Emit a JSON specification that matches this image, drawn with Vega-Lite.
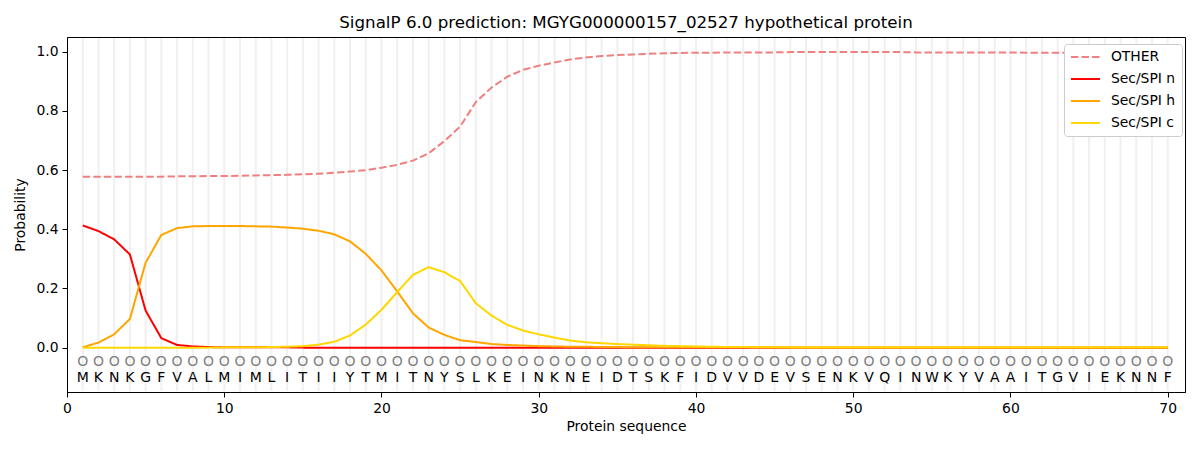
{
  "$schema": "https://vega.github.io/schema/vega-lite/v6.json",
  "width": 1118,
  "height": 355,
  "autosize": "none",
  "padding": {"left": 67, "top": 37, "right": 15, "bottom": 58},
  "background": "white",
  "config": {
    "font": "DejaVu Sans",
    "view": {"stroke": "black", "strokeWidth": 1},
    "axis": {
      "domainColor": "black",
      "tickColor": "black",
      "tickSize": 5,
      "tickWidth": 1,
      "labelFontSize": 13.9,
      "labelColor": "black",
      "labelPadding": 4,
      "titleFontSize": 13.9,
      "titleFontWeight": "normal",
      "titleColor": "black",
      "grid": false
    }
  },
  "title": {
    "text": "SignalP 6.0 prediction: MGYG000000157_02527 hypothetical protein",
    "fontSize": 16.7,
    "fontWeight": "normal",
    "color": "black",
    "anchor": "middle",
    "frame": "group",
    "baseline": "bottom",
    "offset": 6,
    "dy": 18
  },
  "data": {
    "values": [
      {"pos": 1, "aa": "M", "other": 0.578, "sp_n": 0.413, "sp_h": 0.001, "sp_c": 0.000},
      {"pos": 2, "aa": "K", "other": 0.578, "sp_n": 0.394, "sp_h": 0.017, "sp_c": 0.000},
      {"pos": 3, "aa": "N", "other": 0.578, "sp_n": 0.366, "sp_h": 0.045, "sp_c": 0.000},
      {"pos": 4, "aa": "K", "other": 0.578, "sp_n": 0.315, "sp_h": 0.097, "sp_c": 0.000},
      {"pos": 5, "aa": "G", "other": 0.578, "sp_n": 0.125, "sp_h": 0.287, "sp_c": 0.000},
      {"pos": 6, "aa": "F", "other": 0.578, "sp_n": 0.032, "sp_h": 0.381, "sp_c": 0.000},
      {"pos": 7, "aa": "V", "other": 0.579, "sp_n": 0.009, "sp_h": 0.404, "sp_c": 0.000},
      {"pos": 8, "aa": "A", "other": 0.579, "sp_n": 0.004, "sp_h": 0.410, "sp_c": 0.000},
      {"pos": 9, "aa": "L", "other": 0.580, "sp_n": 0.002, "sp_h": 0.411, "sp_c": 0.000},
      {"pos": 10, "aa": "M", "other": 0.580, "sp_n": 0.001, "sp_h": 0.411, "sp_c": 0.001},
      {"pos": 11, "aa": "I", "other": 0.581, "sp_n": 0.001, "sp_h": 0.411, "sp_c": 0.001},
      {"pos": 12, "aa": "M", "other": 0.582, "sp_n": 0.001, "sp_h": 0.410, "sp_c": 0.001},
      {"pos": 13, "aa": "L", "other": 0.583, "sp_n": 0.001, "sp_h": 0.409, "sp_c": 0.002},
      {"pos": 14, "aa": "I", "other": 0.584, "sp_n": 0.001, "sp_h": 0.406, "sp_c": 0.003},
      {"pos": 15, "aa": "T", "other": 0.586, "sp_n": 0.000, "sp_h": 0.402, "sp_c": 0.005},
      {"pos": 16, "aa": "I", "other": 0.588, "sp_n": 0.000, "sp_h": 0.395, "sp_c": 0.010},
      {"pos": 17, "aa": "I", "other": 0.591, "sp_n": 0.000, "sp_h": 0.383, "sp_c": 0.020},
      {"pos": 18, "aa": "Y", "other": 0.595, "sp_n": 0.000, "sp_h": 0.359, "sp_c": 0.041},
      {"pos": 19, "aa": "T", "other": 0.600, "sp_n": 0.000, "sp_h": 0.317, "sp_c": 0.078},
      {"pos": 20, "aa": "M", "other": 0.608, "sp_n": 0.000, "sp_h": 0.261, "sp_c": 0.128},
      {"pos": 21, "aa": "I", "other": 0.618, "sp_n": 0.000, "sp_h": 0.190, "sp_c": 0.188},
      {"pos": 22, "aa": "T", "other": 0.632, "sp_n": 0.000, "sp_h": 0.116, "sp_c": 0.246},
      {"pos": 23, "aa": "N", "other": 0.657, "sp_n": 0.000, "sp_h": 0.068, "sp_c": 0.272},
      {"pos": 24, "aa": "Y", "other": 0.698, "sp_n": 0.000, "sp_h": 0.043, "sp_c": 0.255},
      {"pos": 25, "aa": "S", "other": 0.747, "sp_n": 0.000, "sp_h": 0.025, "sp_c": 0.225},
      {"pos": 26, "aa": "L", "other": 0.830, "sp_n": 0.000, "sp_h": 0.019, "sp_c": 0.150},
      {"pos": 27, "aa": "K", "other": 0.879, "sp_n": 0.000, "sp_h": 0.012, "sp_c": 0.108},
      {"pos": 28, "aa": "E", "other": 0.916, "sp_n": 0.000, "sp_h": 0.009, "sp_c": 0.077},
      {"pos": 29, "aa": "I", "other": 0.939, "sp_n": 0.000, "sp_h": 0.007, "sp_c": 0.058},
      {"pos": 30, "aa": "N", "other": 0.953, "sp_n": 0.000, "sp_h": 0.005, "sp_c": 0.045},
      {"pos": 31, "aa": "K", "other": 0.964, "sp_n": 0.000, "sp_h": 0.004, "sp_c": 0.034},
      {"pos": 32, "aa": "N", "other": 0.974, "sp_n": 0.000, "sp_h": 0.003, "sp_c": 0.024},
      {"pos": 33, "aa": "E", "other": 0.981, "sp_n": 0.000, "sp_h": 0.003, "sp_c": 0.018},
      {"pos": 34, "aa": "I", "other": 0.986, "sp_n": 0.000, "sp_h": 0.002, "sp_c": 0.015},
      {"pos": 35, "aa": "D", "other": 0.989, "sp_n": 0.000, "sp_h": 0.002, "sp_c": 0.012},
      {"pos": 36, "aa": "T", "other": 0.991, "sp_n": 0.000, "sp_h": 0.001, "sp_c": 0.010},
      {"pos": 37, "aa": "S", "other": 0.993, "sp_n": 0.000, "sp_h": 0.001, "sp_c": 0.008},
      {"pos": 38, "aa": "K", "other": 0.995, "sp_n": 0.000, "sp_h": 0.001, "sp_c": 0.006},
      {"pos": 39, "aa": "F", "other": 0.996, "sp_n": 0.000, "sp_h": 0.001, "sp_c": 0.005},
      {"pos": 40, "aa": "I", "other": 0.997, "sp_n": 0.000, "sp_h": 0.001, "sp_c": 0.004},
      {"pos": 41, "aa": "D", "other": 0.997, "sp_n": 0.000, "sp_h": 0.001, "sp_c": 0.003},
      {"pos": 42, "aa": "V", "other": 0.998, "sp_n": 0.000, "sp_h": 0.001, "sp_c": 0.002},
      {"pos": 43, "aa": "V", "other": 0.998, "sp_n": 0.000, "sp_h": 0.001, "sp_c": 0.002},
      {"pos": 44, "aa": "D", "other": 0.998, "sp_n": 0.000, "sp_h": 0.001, "sp_c": 0.001},
      {"pos": 45, "aa": "E", "other": 0.998, "sp_n": 0.000, "sp_h": 0.001, "sp_c": 0.001},
      {"pos": 46, "aa": "V", "other": 0.999, "sp_n": 0.000, "sp_h": 0.000, "sp_c": 0.001},
      {"pos": 47, "aa": "S", "other": 0.999, "sp_n": 0.000, "sp_h": 0.000, "sp_c": 0.001},
      {"pos": 48, "aa": "E", "other": 0.999, "sp_n": 0.000, "sp_h": 0.000, "sp_c": 0.001},
      {"pos": 49, "aa": "N", "other": 0.999, "sp_n": 0.000, "sp_h": 0.000, "sp_c": 0.001},
      {"pos": 50, "aa": "K", "other": 0.999, "sp_n": 0.000, "sp_h": 0.000, "sp_c": 0.001},
      {"pos": 51, "aa": "V", "other": 0.999, "sp_n": 0.000, "sp_h": 0.000, "sp_c": 0.001},
      {"pos": 52, "aa": "Q", "other": 0.999, "sp_n": 0.000, "sp_h": 0.000, "sp_c": 0.001},
      {"pos": 53, "aa": "I", "other": 0.999, "sp_n": 0.000, "sp_h": 0.000, "sp_c": 0.001},
      {"pos": 54, "aa": "N", "other": 0.998, "sp_n": 0.000, "sp_h": 0.000, "sp_c": 0.001},
      {"pos": 55, "aa": "W", "other": 0.998, "sp_n": 0.000, "sp_h": 0.000, "sp_c": 0.001},
      {"pos": 56, "aa": "K", "other": 0.998, "sp_n": 0.000, "sp_h": 0.000, "sp_c": 0.001},
      {"pos": 57, "aa": "Y", "other": 0.998, "sp_n": 0.000, "sp_h": 0.000, "sp_c": 0.001},
      {"pos": 58, "aa": "V", "other": 0.998, "sp_n": 0.000, "sp_h": 0.000, "sp_c": 0.001},
      {"pos": 59, "aa": "A", "other": 0.998, "sp_n": 0.000, "sp_h": 0.000, "sp_c": 0.001},
      {"pos": 60, "aa": "A", "other": 0.998, "sp_n": 0.000, "sp_h": 0.000, "sp_c": 0.001},
      {"pos": 61, "aa": "I", "other": 0.997, "sp_n": 0.000, "sp_h": 0.000, "sp_c": 0.001},
      {"pos": 62, "aa": "T", "other": 0.997, "sp_n": 0.000, "sp_h": 0.000, "sp_c": 0.001},
      {"pos": 63, "aa": "G", "other": 0.997, "sp_n": 0.000, "sp_h": 0.000, "sp_c": 0.001},
      {"pos": 64, "aa": "V", "other": 0.997, "sp_n": 0.000, "sp_h": 0.000, "sp_c": 0.001},
      {"pos": 65, "aa": "I", "other": 0.997, "sp_n": 0.000, "sp_h": 0.000, "sp_c": 0.001},
      {"pos": 66, "aa": "E", "other": 0.996, "sp_n": 0.000, "sp_h": 0.000, "sp_c": 0.001},
      {"pos": 67, "aa": "K", "other": 0.996, "sp_n": 0.000, "sp_h": 0.000, "sp_c": 0.001},
      {"pos": 68, "aa": "N", "other": 0.996, "sp_n": 0.000, "sp_h": 0.000, "sp_c": 0.001},
      {"pos": 69, "aa": "N", "other": 0.996, "sp_n": 0.000, "sp_h": 0.000, "sp_c": 0.001},
      {"pos": 70, "aa": "F", "other": 0.996, "sp_n": 0.000, "sp_h": 0.000, "sp_c": 0.001}
    ]
  },
  "encoding": {
    "x": {
      "field": "pos",
      "type": "quantitative",
      "scale": {"domain": [0, 71.1], "nice": false, "zero": false},
      "axis": {"title": "Protein sequence", "values": [0, 10, 20, 30, 40, 50, 60, 70], "format": "d", "labelFlush": false, "titlePadding": 5}
    }
  },
  "layer": [
    {
      "mark": {"type": "rule", "color": "#f0f0f0", "strokeWidth": 2},
      "encoding": {"y": {"datum": -0.1465}, "y2": {"datum": 1.0465}}
    },
    {
      "transform": [{"fold": ["other", "sp_n", "sp_h", "sp_c"], "as": ["track", "prob"]}],
      "mark": {"type": "line", "strokeWidth": 2},
      "encoding": {
        "y": {
          "field": "prob",
          "type": "quantitative",
          "scale": {"domain": [-0.15, 1.05], "nice": false, "zero": false},
          "axis": {"title": "Probability", "values": [0, 0.2, 0.4, 0.6, 0.8, 1.0], "format": ".1f", "titlePadding": 8}
        },
        "color": {
          "field": "track",
          "type": "nominal",
          "scale": {"domain": ["other", "sp_n", "sp_h", "sp_c"], "range": ["#f08080", "#ff0000", "#ffa500", "#ffd700"]},
          "legend": {
            "title": null,
            "orient": "none",
            "legendX": 997,
            "legendY": 7,
            "fillColor": "white",
            "strokeColor": "#cccccc",
            "cornerRadius": 3,
            "padding": 6,
            "labelFontSize": 13.9,
            "labelColor": "black",
            "labelOffset": 27,
            "rowPadding": 7,
            "symbolType": "M-1.2,0H4.6",
            "symbolSize": 100,
            "symbolStrokeWidth": 2,
            "labelExpr": "datum.label == 'other' ? 'OTHER' : datum.label == 'sp_n' ? 'Sec/SPI n' : datum.label == 'sp_h' ? 'Sec/SPI h' : 'Sec/SPI c'"
          }
        },
        "strokeDash": {
          "field": "track",
          "type": "nominal",
          "scale": {"domain": ["other", "sp_n", "sp_h", "sp_c"], "range": [[7.4, 3.2], [1, 0], [1, 0], [1, 0]]},
          "legend": null
        }
      }
    },
    {
      "mark": {"type": "text", "text": "O", "color": "#808080", "fontSize": 14, "baseline": "middle"},
      "encoding": {"y": {"datum": -0.047}}
    },
    {
      "mark": {"type": "text", "color": "black", "fontSize": 14, "baseline": "middle"},
      "encoding": {"y": {"datum": -0.102}, "text": {"field": "aa"}}
    }
  ]
}
